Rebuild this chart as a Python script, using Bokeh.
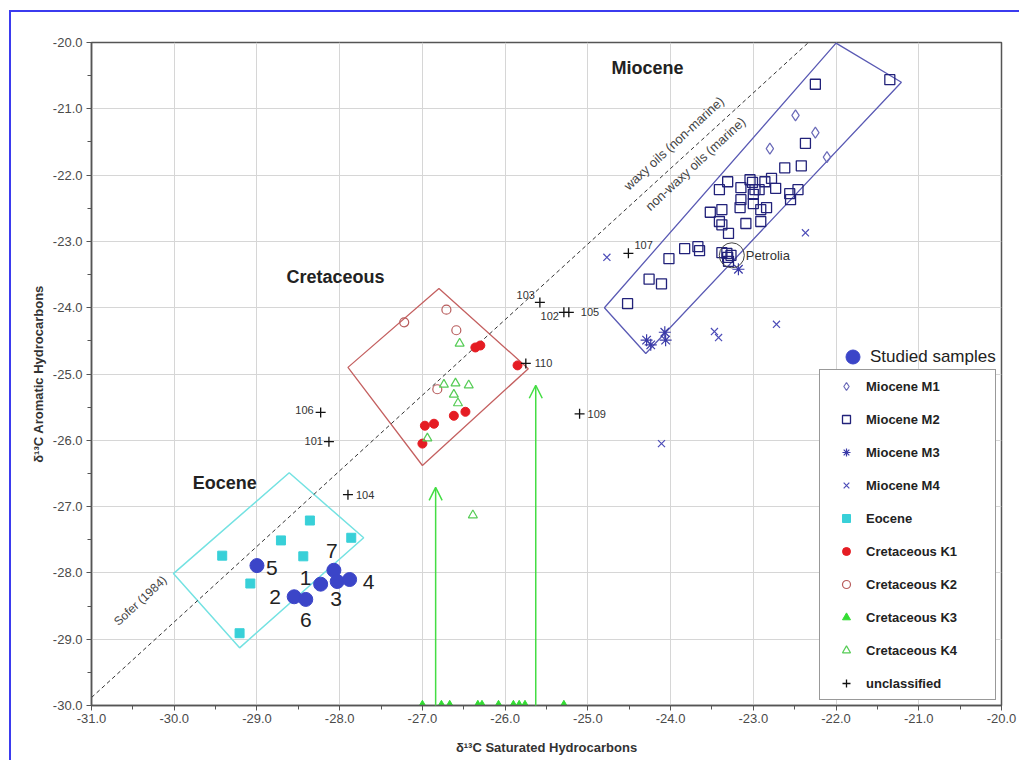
import numpy as np
from bokeh.plotting import figure
from bokeh.models import (Range1d, SingleIntervalTicker, NumeralTickFormatter, Legend, LegendItem,
                          Arrow, OpenHead, ColumnDataSource, Label)
from bokeh.core.properties import value
from bokeh.embed import file_html
from bokeh.resources import INLINE

# ---------------- data ----------------
SOFER_SLOPE = 1.14
SOFER_INTERCEPT = 5.46

m1_sat = [-22.49, -22.25, -22.80, -22.11]
m1_aro = [-21.10, -21.36, -21.60, -21.73]

m2_sat = [-22.25, -21.35, -22.37, -22.62, -22.42, -23.31, -23.41, -23.15, -23.04, -23.01,
          -22.98, -22.93, -22.86, -22.78, -22.73, -22.56, -22.46, -22.55, -23.15, -23.00,
          -23.00, -23.16, -22.91, -22.84, -23.38, -23.52, -23.41, -23.38, -23.30, -23.09,
          -22.91, -24.02, -23.83, -23.67, -23.65, -23.38, -23.32, -23.27, -23.31, -23.30,
          -24.26, -24.11, -24.52]
m2_aro = [-20.63, -20.56, -21.52, -21.89, -21.86, -22.10, -22.22, -22.19, -22.07, -22.11,
          -22.22, -22.22, -22.10, -22.05, -22.20, -22.28, -22.22, -22.37, -22.37, -22.29,
          -22.43, -22.49, -22.52, -22.49, -22.52, -22.56, -22.70, -22.75, -22.88, -22.73,
          -22.70, -23.26, -23.11, -23.08, -23.14, -23.17, -23.18, -23.21, -23.24, -23.30,
          -23.57, -23.64, -23.94]

m3_sat = [-24.29, -24.24, -24.07, -24.06, -23.18]
m3_aro = [-24.49, -24.56, -24.37, -24.49, -23.42]

m4_sat = [-24.77, -23.47, -23.42, -22.72, -22.37, -24.11]
m4_aro = [-23.24, -24.36, -24.45, -24.25, -22.87, -26.05]

eoc_sat = [-28.36, -28.71, -29.42, -28.44, -27.86, -29.08, -29.21]
eoc_aro = [-27.21, -27.51, -27.74, -27.75, -27.47, -28.16, -28.91]

k1_sat = [-26.36, -26.30, -25.85, -26.97, -26.86, -26.62, -26.48, -27.00]
k1_aro = [-24.60, -24.57, -24.87, -25.78, -25.75, -25.63, -25.57, -26.05]

k2_sat = [-27.22, -26.71, -26.59, -26.82]
k2_aro = [-24.22, -24.03, -24.34, -25.23]

k3_sat = [-27.00, -26.77, -26.67, -26.33, -26.28, -26.08, -25.90, -25.83, -25.76, -25.29]
k3_aro = [-30.00] * 10

k4_sat = [-26.55, -26.74, -26.60, -26.44, -26.62, -26.57, -26.94, -26.39]
k4_aro = [-24.54, -25.16, -25.14, -25.17, -25.31, -25.44, -25.97, -27.13]

unc_names = ["107", "103", "102", "105", "110", "106", "101", "104", "109"]
unc_sat = [-24.51, -25.58, -25.29, -25.23, -25.75, -28.23, -28.13, -27.90, -25.10]
unc_aro = [-23.18, -23.92, -24.07, -24.07, -24.84, -25.58, -26.02, -26.82, -25.60]

studied_names = ["5", "1", "2", "6", "7", "3", "4"]
studied_sat = [-29.00, -28.23, -28.55, -28.41, -28.07, -28.03, -27.88]
studied_aro = [-27.89, -28.17, -28.36, -28.40, -27.96, -28.13, -28.10]

petrolia_sat = [-23.26]
petrolia_aro = [-23.21]

miocene_box_sat = [-22.00, -21.21, -24.30, -24.80]
miocene_box_aro = [-20.01, -20.60, -24.69, -24.00]
cret_box_sat = [-26.80, -25.72, -27.00, -27.90]
cret_box_aro = [-23.71, -24.92, -26.38, -24.90]
eoc_box_sat = [-28.61, -27.71, -29.21, -30.01]
eoc_box_aro = [-26.49, -27.47, -29.13, -28.01]

arrow_sat = [-26.84, -25.63]
arrow_base = [-30.22, -30.22]
arrow_tip = [-26.71, -25.17]

# ---------------- figure ----------------
FONT = "Liberation Sans"

p = figure(width=1010, height=750, x_range=Range1d(-31, -20), y_range=Range1d(-30, -20),
           output_backend="svg", toolbar_location=None,
           min_border_left=80, min_border_top=30, min_border_right=20, min_border_bottom=57)
p.styles = {"margin-left": "9px", "margin-top": "10px",
            "border-left": "2px solid #3b3bef", "border-top": "2px solid #3b3bef"}
p.background_fill_color = "white"
p.border_fill_color = "white"
p.outline_line_color = "#555555"
p.outline_line_width = 1.5

for ax in (p.xaxis[0], p.yaxis[0]):
    ax.ticker = SingleIntervalTicker(interval=1, num_minor_ticks=2)
    ax.formatter = NumeralTickFormatter(format="0.0")
    ax.major_tick_out = 5
    ax.major_tick_in = 0
    ax.minor_tick_out = 4
    ax.minor_tick_in = 0
    ax.axis_line_color = "#555555"
    ax.axis_line_width = 1.5
    ax.major_tick_line_color = "#555555"
    ax.minor_tick_line_color = "#555555"
    ax.major_label_text_font_size = "13px"
    ax.major_label_text_color = "#4a4a4a"
    ax.major_label_text_font = FONT
    ax.axis_label_text_font = FONT
    ax.axis_label_text_font_style = "bold"
    ax.axis_label_text_font_size = "13px"
    ax.axis_label_text_color = "#333333"

p.xaxis[0].major_label_standoff = 3
p.xaxis[0].axis_label_standoff = 14
p.yaxis[0].major_label_standoff = 4
p.yaxis[0].axis_label_standoff = 4
p.xaxis[0].axis_label = "δ¹³C Saturated Hydrocarbons"
p.yaxis[0].axis_label = "δ¹³C Aromatic Hydrocarbons"

for g in (p.xgrid[0], p.ygrid[0]):
    g.ticker = SingleIntervalTicker(interval=1)
    g.grid_line_color = "#d6d6d6"
    g.grid_line_width = 1

# boxes
p.patch(miocene_box_sat, miocene_box_aro, fill_alpha=0, line_color="#5a5ab4", line_width=1.3)
p.patch(cret_box_sat, cret_box_aro, fill_alpha=0, line_color="#c46060", line_width=1.3)
p.patch(eoc_box_sat, eoc_box_aro, fill_alpha=0, line_color="#74e2e2", line_width=1.5)

# Sofer line
sx0 = -31.0
sx1 = (-20.0 - SOFER_INTERCEPT) / SOFER_SLOPE
p.line([sx0, sx1], [SOFER_SLOPE * sx0 + SOFER_INTERCEPT, SOFER_SLOPE * sx1 + SOFER_INTERCEPT],
       line_color="#333333", line_dash="4 3", line_width=1)

ang = 0.745
for txt, x, y, size in [("waxy oils (non-marine)", -23.96, -21.52, "13px"),
                        ("non-waxy oils (marine)", -23.70, -21.83, "13px"),
                        ("Sofer (1984)", -30.41, -28.42, "12px")]:
    p.add_layout(Label(x=x, y=y, text=txt, angle=ang, text_align="center", text_baseline="middle",
                       text_font_size=size, text_color="#444444", text_font=FONT))

for txt, x, y in [("Miocene", -24.28, -20.39), ("Cretaceous", -28.05, -23.54), ("Eocene", -29.39, -26.65)]:
    p.add_layout(Label(x=x, y=y, text=txt, text_align="center", text_baseline="middle",
                       text_font_size="18px", text_font_style="bold", text_color="#222222",
                       text_font=FONT))

# arrows
arr_src = ColumnDataSource(dict(x=arrow_sat, y0=arrow_base, y1=arrow_tip))
p.add_layout(Arrow(end=OpenHead(size=13, line_color="#44dd44", line_width=1.5),
                   x_start="x", y_start="y0", x_end="x", y_end="y1", source=arr_src,
                   line_color="#44dd44", line_width=1.5))

# points
r_m1 = p.scatter(m1_sat, m1_aro, marker="diamond", size=11, fill_alpha=0, line_color="#6a6ab8", line_width=1.2)
r_m2 = p.scatter(m2_sat, m2_aro, marker="square", size=10, fill_alpha=0, line_color="#22227a", line_width=1.3)
r_m3 = p.scatter(m3_sat, m3_aro, marker="asterisk", size=12, line_color="#3a3aa8", line_width=1.2)
r_m4 = p.scatter(m4_sat, m4_aro, marker="x", size=10, line_color="#4c4cb8", line_width=1.2)
r_eo = p.scatter(eoc_sat, eoc_aro, marker="square", size=9, fill_color="#38d0d8", line_color="#38d0d8")
r_k1 = p.scatter(k1_sat, k1_aro, marker="circle", size=9, fill_color="#e51c23", line_color="#e51c23")
r_k2 = p.scatter(k2_sat, k2_aro, marker="circle", size=9, fill_alpha=0, line_color="#b85c5c", line_width=1.2)
r_k3 = p.scatter(k3_sat, k3_aro, marker="triangle", size=9, fill_color="#33dd33", line_color="#33dd33")
r_k4 = p.scatter(k4_sat, k4_aro, marker="triangle", size=9, fill_alpha=0, line_color="#55cc55", line_width=1.2)
r_un = p.scatter(unc_sat, unc_aro, marker="cross", size=10, line_color="#111111", line_width=1.3)

p.scatter(petrolia_sat, petrolia_aro, marker="circle", size=25, fill_alpha=0, line_color="#444444", line_width=1)
p.add_layout(Label(x=petrolia_sat[0], y=petrolia_aro[0], text="Petrolia", x_offset=14, y_offset=0,
                   text_baseline="middle", text_font_size="13px", text_color="#333333", text_font=FONT))

r_st = p.scatter(studied_sat, studied_aro, marker="circle", size=14, fill_color="#3b45c8", line_color="#3b45c8")

# labels of unclassified samples
unc_dx = {"107": 6, "103": -5, "102": -5, "105": 12, "110": 9, "106": -7, "101": -6, "104": 8, "109": 8}
unc_dy = {"107": -8, "103": -7, "102": 4, "105": 0, "110": 0, "106": -2, "101": -1, "104": 0, "109": 0}
left_lab = ["107", "105", "110", "104", "109"]
for align, names in (("left", left_lab), ("right", [n for n in unc_names if n not in left_lab])):
    idx = [unc_names.index(n) for n in names]
    src = ColumnDataSource(dict(x=[unc_sat[i] for i in idx], y=[unc_aro[i] for i in idx], t=names,
                                dx=[unc_dx[n] for n in names], dy=[unc_dy[n] for n in names]))
    p.text(x="x", y="y", text="t", x_offset="dx", y_offset="dy", source=src, text_align=align,
           text_baseline="middle", text_font_size="11px", text_color="#333333",
           text_font=value(FONT))

# labels of studied samples
st_dx = {"5": 15, "1": -15, "2": -19, "6": 0, "7": -2, "3": -1, "4": 19}
st_dy = {"5": 2, "1": -6, "2": 0, "6": 21, "7": -19, "3": 17, "4": 2}
st_src = ColumnDataSource(dict(x=studied_sat, y=studied_aro, t=studied_names,
                               dx=[st_dx[n] for n in studied_names], dy=[st_dy[n] for n in studied_names]))
p.text(x="x", y="y", text="t", x_offset="dx", y_offset="dy", source=st_src, text_align="center",
       text_baseline="middle", text_font_size="21px", text_color="#222222", text_font=value(FONT))

# legends
legend = Legend(items=[LegendItem(label="Miocene M1", renderers=[r_m1]),
                       LegendItem(label="Miocene M2", renderers=[r_m2]),
                       LegendItem(label="Miocene M3", renderers=[r_m3]),
                       LegendItem(label="Miocene M4", renderers=[r_m4]),
                       LegendItem(label="Eocene", renderers=[r_eo]),
                       LegendItem(label="Cretaceous K1", renderers=[r_k1]),
                       LegendItem(label="Cretaceous K2", renderers=[r_k2]),
                       LegendItem(label="Cretaceous K3", renderers=[r_k3]),
                       LegendItem(label="Cretaceous K4", renderers=[r_k4]),
                       LegendItem(label="unclassified", renderers=[r_un])],
                location=(728, 5), margin=0, padding=6, spacing=13,
                glyph_width=40, glyph_height=20, label_height=20, label_width=123, label_standoff=0,
                border_line_color="#333333", border_line_width=1.5,
                background_fill_color="white", background_fill_alpha=1,
                label_text_font_style="bold", label_text_font_size="13px", label_text_color="#222222",
                label_text_font=FONT)
p.add_layout(legend)

legend2 = Legend(items=[LegendItem(label="Studied samples", renderers=[r_st])],
                 location=(744, 331), margin=0, padding=0, spacing=0,
                 glyph_width=35, glyph_height=35, label_height=35, label_standoff=0,
                 border_line_alpha=0, background_fill_alpha=0,
                 label_text_font_size="17px", label_text_color="#222222", label_text_font=FONT)
p.add_layout(legend2)

open("out.html", "w").write(file_html(p, INLINE))
